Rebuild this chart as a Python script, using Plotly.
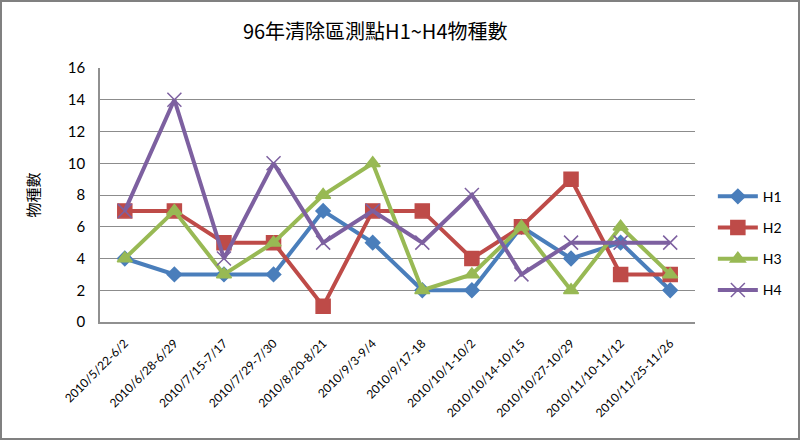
import plotly.graph_objects as go

# Periodos de muestreo
periods = ["2010/5/22-6/2", "2010/6/28-6/29", "2010/7/15-7/17", "2010/7/29-7/30",
           "2010/8/20-8/21", "2010/9/3-9/4", "2010/9/17-18", "2010/10/1-10/2",
           "2010/10/14-10/15", "2010/10/27-10/29", "2010/11/10-11/12", "2010/11/25-11/26"]

h1 = [4, 3, 3, 3, 7, 5, 2, 2, 6, 4, 5, 2]
h2 = [7, 7, 5, 5, 1, 7, 7, 4, 6, 9, 3, 3]
h3 = [4, 7, 3, 5, 8, 10, 2, 3, 6, 2, 6, 3]
h4 = [7, 14, 4, 10, 5, 7, 5, 8, 3, 5, 5, 5]

y_ticks = [0, 2, 4, 6, 8, 10, 12, 14, 16]

series = [
    ("H1", h1, "#4A7EBB", "diamond", 11),
    ("H2", h2, "#BE4B48", "square", 14),
    ("H3", h3, "#98B954", "triangle-up", 13),
    ("H4", h4, "#7D60A0", "x-thin-open", 14),
]

fig = go.Figure()
for name, vals, color, symbol, size in series:
    fig.add_trace(go.Scatter(
        x=periods, y=vals, name=name, legendgroup=name, mode="lines+markers",
        line=dict(color=color, width=4),
        marker=dict(symbol=symbol, size=size, color=color,
                    line=dict(color="#A0A0A0" if name == "H4" else color, width=1.5)),
    ))

fig.update_layout(
    width=800, height=440,
    paper_bgcolor="white", plot_bgcolor="white",
    margin=dict(l=100, r=105, t=68, b=118),
    title=dict(text="96年清除區測點H1~H4物種數", x=0.469, xanchor="center",
               y=0.927, yanchor="middle",
               font=dict(family="Noto Sans CJK TC", size=20, color="black")),
    font=dict(family="Lato, Open Sans, sans-serif", color="black"),
    legend=dict(x=1.03, y=0.31, yanchor="middle", font=dict(size=14),
                tracegroupgap=10, itemwidth=40),
    showlegend=True,
    shapes=[dict(type="rect", xref="paper", yref="paper",
                 x0=-99 / 595, x1=1 + 104 / 595, y0=-117 / 254, y1=1 + 67 / 254,
                 line=dict(color="#808080", width=2))],
)
fig.update_xaxes(type="category", range=[-0.5, 11.5], tickangle=-45,
                 tickfont=dict(size=12), showline=True, linecolor="#909090",
                 linewidth=1.5, showgrid=False, ticks="", ticklabelstandoff=8)
fig.update_yaxes(range=[0, 16], tickvals=y_ticks, tickfont=dict(size=15),
                 showgrid=True, gridcolor="#8C8C8C", gridwidth=1,
                 showline=True, linecolor="#909090", linewidth=1.5, zeroline=False,
                 ticklabelstandoff=10,
                 title=dict(text="物種數", standoff=25,
                            font=dict(family="Noto Sans CJK TC", size=15)))

fig.write_html("out.html", config={"displayModeBar": False},
               post_script="document.body.style.margin='0px';")
